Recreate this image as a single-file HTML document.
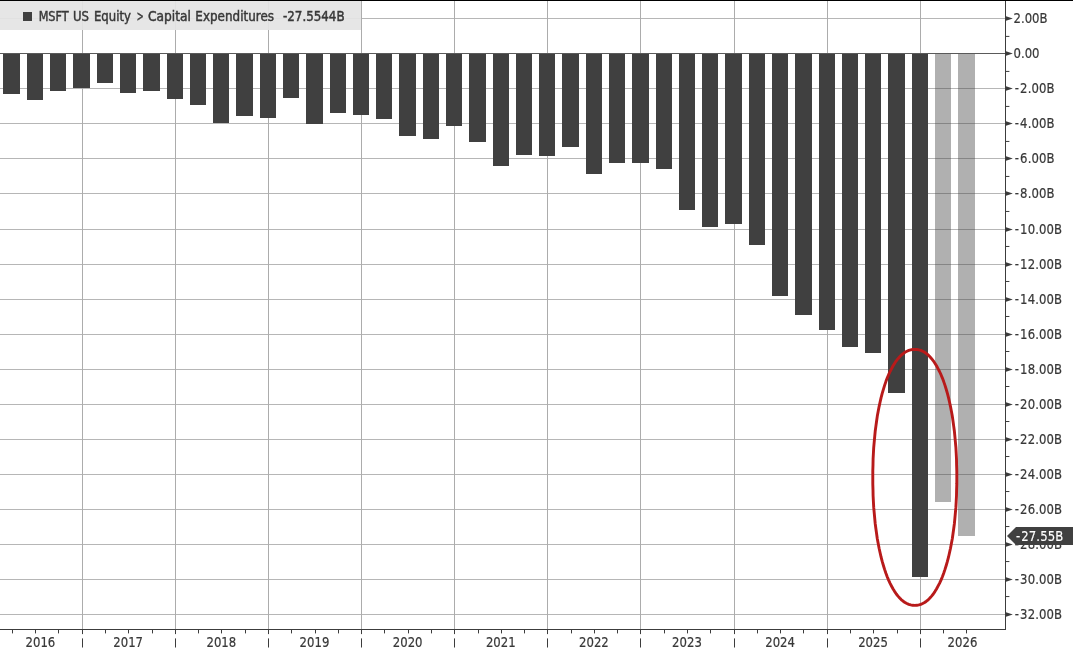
<!DOCTYPE html><html><head><meta charset="utf-8"><title>MSFT US Equity Capital Expenditures</title>
<style>html,body{margin:0;padding:0;background:#fff}body{width:1073px;height:650px;overflow:hidden}svg{display:block}text{font-family:"DejaVu Sans Condensed","DejaVu Sans","Liberation Sans",sans-serif;font-stretch:condensed;font-size:14px;fill:#383838;stroke:#383838;stroke-width:.2px}</style></head><body>
<svg width="1073" height="650" viewBox="0 0 1073 650">
<rect x="0" y="0" width="1073" height="650" fill="#fff"/>
<g fill="#b6b6b6" shape-rendering="crispEdges">
<rect x="0" y="18" width="1005" height="1"/>
<rect x="0" y="88" width="1005" height="1"/>
<rect x="0" y="123" width="1005" height="1"/>
<rect x="0" y="158" width="1005" height="1"/>
<rect x="0" y="193" width="1005" height="1"/>
<rect x="0" y="229" width="1005" height="1"/>
<rect x="0" y="264" width="1005" height="1"/>
<rect x="0" y="299" width="1005" height="1"/>
<rect x="0" y="334" width="1005" height="1"/>
<rect x="0" y="369" width="1005" height="1"/>
<rect x="0" y="404" width="1005" height="1"/>
<rect x="0" y="439" width="1005" height="1"/>
<rect x="0" y="474" width="1005" height="1"/>
<rect x="0" y="509" width="1005" height="1"/>
<rect x="0" y="544" width="1005" height="1"/>
<rect x="0" y="579" width="1005" height="1"/>
<rect x="0" y="614" width="1005" height="1"/>
<rect x="82" y="1" width="1" height="628" fill="#acacac"/>
<rect x="175" y="1" width="1" height="628" fill="#acacac"/>
<rect x="268" y="1" width="1" height="628" fill="#acacac"/>
<rect x="361" y="1" width="1" height="628" fill="#acacac"/>
<rect x="454" y="1" width="1" height="628" fill="#acacac"/>
<rect x="547" y="1" width="1" height="628" fill="#acacac"/>
<rect x="640" y="1" width="1" height="628" fill="#acacac"/>
<rect x="734" y="1" width="1" height="628" fill="#acacac"/>
<rect x="827" y="1" width="1" height="628" fill="#acacac"/>
<rect x="920" y="1" width="1" height="628" fill="#acacac"/>
</g>
<g shape-rendering="crispEdges">
<rect x="3" y="54" width="17" height="40" fill="#404040"/>
<rect x="27" y="54" width="16" height="46" fill="#404040"/>
<rect x="50" y="54" width="16" height="37" fill="#404040"/>
<rect x="73" y="54" width="17" height="34" fill="#404040"/>
<rect x="97" y="54" width="16" height="29" fill="#404040"/>
<rect x="120" y="54" width="16" height="39" fill="#404040"/>
<rect x="143" y="54" width="17" height="37" fill="#404040"/>
<rect x="167" y="54" width="16" height="45" fill="#404040"/>
<rect x="190" y="54" width="16" height="51" fill="#404040"/>
<rect x="213" y="54" width="16" height="69" fill="#404040"/>
<rect x="236" y="54" width="17" height="62" fill="#404040"/>
<rect x="260" y="54" width="16" height="64" fill="#404040"/>
<rect x="283" y="54" width="16" height="44" fill="#404040"/>
<rect x="306" y="54" width="17" height="70" fill="#404040"/>
<rect x="330" y="54" width="16" height="59" fill="#404040"/>
<rect x="353" y="54" width="16" height="61" fill="#404040"/>
<rect x="376" y="54" width="16" height="65" fill="#404040"/>
<rect x="399" y="54" width="17" height="82" fill="#404040"/>
<rect x="423" y="54" width="16" height="85" fill="#404040"/>
<rect x="446" y="54" width="16" height="72" fill="#404040"/>
<rect x="469" y="54" width="17" height="88" fill="#404040"/>
<rect x="493" y="54" width="16" height="112" fill="#404040"/>
<rect x="516" y="54" width="16" height="101" fill="#404040"/>
<rect x="539" y="54" width="16" height="102" fill="#404040"/>
<rect x="562" y="54" width="17" height="93" fill="#404040"/>
<rect x="586" y="54" width="16" height="120" fill="#404040"/>
<rect x="609" y="54" width="16" height="109" fill="#404040"/>
<rect x="632" y="54" width="17" height="109" fill="#404040"/>
<rect x="656" y="54" width="16" height="115" fill="#404040"/>
<rect x="679" y="54" width="16" height="156" fill="#404040"/>
<rect x="702" y="54" width="16" height="173" fill="#404040"/>
<rect x="725" y="54" width="17" height="170" fill="#404040"/>
<rect x="749" y="54" width="16" height="191" fill="#404040"/>
<rect x="772" y="54" width="16" height="242" fill="#404040"/>
<rect x="795" y="54" width="17" height="261" fill="#404040"/>
<rect x="819" y="54" width="16" height="276" fill="#404040"/>
<rect x="842" y="54" width="16" height="293" fill="#404040"/>
<rect x="865" y="54" width="16" height="299" fill="#404040"/>
<rect x="888" y="54" width="17" height="339" fill="#404040"/>
<rect x="912" y="54" width="16" height="523" fill="#404040"/>
<rect x="935" y="54" width="16" height="448" fill="#404040" fill-opacity="0.415"/>
<rect x="958" y="54" width="17" height="482" fill="#404040" fill-opacity="0.415"/>
</g>
<g fill="#3c3c3c" shape-rendering="crispEdges">
<rect x="0" y="53" width="1006" height="1" fill="#5a5a5a"/>
<rect x="0" y="0" width="1073" height="1" fill="#000"/>
<rect x="1005" y="1" width="1" height="629"/>
<rect x="0" y="629" width="1006" height="1"/>
</g>
<g fill="#3c3c3c"><rect x="12" y="630" width="1" height="3.4"/><rect x="35" y="630" width="1" height="3.4"/><rect x="58" y="630" width="1" height="3.4"/><rect x="82" y="630" width="1" height="4.1"/><rect x="82" y="638.4" width="1" height="9.1"/><rect x="105" y="630" width="1" height="3.4"/><rect x="128" y="630" width="1" height="3.4"/><rect x="152" y="630" width="1" height="3.4"/><rect x="175" y="630" width="1" height="4.1"/><rect x="175" y="638.4" width="1" height="9.1"/><rect x="198" y="630" width="1" height="3.4"/><rect x="221" y="630" width="1" height="3.4"/><rect x="245" y="630" width="1" height="3.4"/><rect x="268" y="630" width="1" height="4.1"/><rect x="268" y="638.4" width="1" height="9.1"/><rect x="291" y="630" width="1" height="3.4"/><rect x="315" y="630" width="1" height="3.4"/><rect x="338" y="630" width="1" height="3.4"/><rect x="361" y="630" width="1" height="4.1"/><rect x="361" y="638.4" width="1" height="9.1"/><rect x="384" y="630" width="1" height="3.4"/><rect x="408" y="630" width="1" height="3.4"/><rect x="431" y="630" width="1" height="3.4"/><rect x="454" y="630" width="1" height="4.1"/><rect x="454" y="638.4" width="1" height="9.1"/><rect x="478" y="630" width="1" height="3.4"/><rect x="501" y="630" width="1" height="3.4"/><rect x="524" y="630" width="1" height="3.4"/><rect x="547" y="630" width="1" height="4.1"/><rect x="547" y="638.4" width="1" height="9.1"/><rect x="571" y="630" width="1" height="3.4"/><rect x="594" y="630" width="1" height="3.4"/><rect x="617" y="630" width="1" height="3.4"/><rect x="640" y="630" width="1" height="4.1"/><rect x="640" y="638.4" width="1" height="9.1"/><rect x="664" y="630" width="1" height="3.4"/><rect x="687" y="630" width="1" height="3.4"/><rect x="710" y="630" width="1" height="3.4"/><rect x="734" y="630" width="1" height="4.1"/><rect x="734" y="638.4" width="1" height="9.1"/><rect x="757" y="630" width="1" height="3.4"/><rect x="780" y="630" width="1" height="3.4"/><rect x="803" y="630" width="1" height="3.4"/><rect x="827" y="630" width="1" height="4.1"/><rect x="827" y="638.4" width="1" height="9.1"/><rect x="850" y="630" width="1" height="3.4"/><rect x="873" y="630" width="1" height="3.4"/><rect x="897" y="630" width="1" height="3.4"/><rect x="920" y="630" width="1" height="4.1"/><rect x="920" y="638.4" width="1" height="9.1"/><rect x="943" y="630" width="1" height="3.4"/><rect x="966" y="630" width="1" height="3.4"/><rect x="1006" y="35.90" width="3.4" height="1"/><rect x="1006" y="70.91" width="3.4" height="1"/><rect x="1006" y="105.92" width="3.4" height="1"/><rect x="1006" y="140.93" width="3.4" height="1"/><rect x="1006" y="175.94" width="3.4" height="1"/><rect x="1006" y="210.95" width="3.4" height="1"/><rect x="1006" y="245.96" width="3.4" height="1"/><rect x="1006" y="280.97" width="3.4" height="1"/><rect x="1006" y="315.98" width="3.4" height="1"/><rect x="1006" y="350.99" width="3.4" height="1"/><rect x="1006" y="386.00" width="3.4" height="1"/><rect x="1006" y="421.01" width="3.4" height="1"/><rect x="1006" y="456.02" width="3.4" height="1"/><rect x="1006" y="491.03" width="3.4" height="1"/><rect x="1006" y="526.04" width="3.4" height="1"/><rect x="1006" y="561.05" width="3.4" height="1"/><rect x="1006" y="596.06" width="3.4" height="1"/></g>
<g fill="#3c3c3c">
<path d="M1006 16.3 L1012.8 18.5 L1006 20.7 Z"/>
<path d="M1006 51.3 L1012.8 53.5 L1006 55.7 Z"/>
<path d="M1006 86.3 L1012.8 88.5 L1006 90.7 Z"/>
<path d="M1006 121.3 L1012.8 123.5 L1006 125.7 Z"/>
<path d="M1006 156.3 L1012.8 158.5 L1006 160.7 Z"/>
<path d="M1006 191.3 L1012.8 193.5 L1006 195.7 Z"/>
<path d="M1006 227.3 L1012.8 229.5 L1006 231.7 Z"/>
<path d="M1006 262.3 L1012.8 264.5 L1006 266.7 Z"/>
<path d="M1006 297.3 L1012.8 299.5 L1006 301.7 Z"/>
<path d="M1006 332.3 L1012.8 334.5 L1006 336.7 Z"/>
<path d="M1006 367.3 L1012.8 369.5 L1006 371.7 Z"/>
<path d="M1006 402.3 L1012.8 404.5 L1006 406.7 Z"/>
<path d="M1006 437.3 L1012.8 439.5 L1006 441.7 Z"/>
<path d="M1006 472.3 L1012.8 474.5 L1006 476.7 Z"/>
<path d="M1006 507.3 L1012.8 509.5 L1006 511.7 Z"/>
<path d="M1006 542.3 L1012.8 544.5 L1006 546.7 Z"/>
<path d="M1006 577.3 L1012.8 579.5 L1006 581.7 Z"/>
<path d="M1006 612.3 L1012.8 614.5 L1006 616.7 Z"/>
</g>
<g transform="scale(0.92857,1)">
<text x="1091.5" y="22.9">2.00B</text>
<text x="1091.5" y="57.9">0.00</text>
<text x="1092.9" y="92.9">-<tspan dx="1.1" letter-spacing=".13">2.00B</tspan></text>
<text x="1092.9" y="127.9">-<tspan dx="1.1" letter-spacing=".13">4.00B</tspan></text>
<text x="1092.9" y="162.9">-<tspan dx="1.1" letter-spacing=".13">6.00B</tspan></text>
<text x="1092.9" y="197.9">-<tspan dx="1.1" letter-spacing=".13">8.00B</tspan></text>
<text x="1092.9" y="233.9">-<tspan dx="1.1" letter-spacing=".13">10.00B</tspan></text>
<text x="1092.9" y="268.9">-<tspan dx="1.1" letter-spacing=".13">12.00B</tspan></text>
<text x="1092.9" y="303.9">-<tspan dx="1.1" letter-spacing=".13">14.00B</tspan></text>
<text x="1092.9" y="338.9">-<tspan dx="1.1" letter-spacing=".13">16.00B</tspan></text>
<text x="1092.9" y="373.9">-<tspan dx="1.1" letter-spacing=".13">18.00B</tspan></text>
<text x="1092.9" y="408.9">-<tspan dx="1.1" letter-spacing=".13">20.00B</tspan></text>
<text x="1092.9" y="443.9">-<tspan dx="1.1" letter-spacing=".13">22.00B</tspan></text>
<text x="1092.9" y="478.9">-<tspan dx="1.1" letter-spacing=".13">24.00B</tspan></text>
<text x="1092.9" y="513.9">-<tspan dx="1.1" letter-spacing=".13">26.00B</tspan></text>
<text x="1092.9" y="548.9">-<tspan dx="1.1" letter-spacing=".13">28.00B</tspan></text>
<text x="1092.9" y="583.9">-<tspan dx="1.1" letter-spacing=".13">30.00B</tspan></text>
<text x="1092.9" y="618.9">-<tspan dx="1.1" letter-spacing=".13">32.00B</tspan></text>
</g>
<path d="M1007 536 L1016 527 L1073 527 L1073 545 L1016 545 Z" fill="#404040"/>
<g transform="scale(0.92857,1)">
<text x="1094.2" y="541.1" style="fill:#fff;stroke:#fff;stroke-width:.15px">-<tspan dx="1.1" letter-spacing=".1">27.55B</tspan></text>
<text x="43.5" y="647.2" text-anchor="middle">2016</text>
<text x="138.0" y="647.2" text-anchor="middle">2017</text>
<text x="238.4" y="647.2" text-anchor="middle">2018</text>
<text x="338.7" y="647.2" text-anchor="middle">2019</text>
<text x="439.0" y="647.2" text-anchor="middle">2020</text>
<text x="539.3" y="647.2" text-anchor="middle">2021</text>
<text x="639.6" y="647.2" text-anchor="middle">2022</text>
<text x="739.8" y="647.2" text-anchor="middle">2023</text>
<text x="840.1" y="647.2" text-anchor="middle">2024</text>
<text x="940.2" y="647.2" text-anchor="middle">2025</text>
<text x="1036.5" y="647.2" text-anchor="middle">2026</text>
</g>
<rect x="0" y="1" width="361" height="29" fill="#e4e4e4" fill-opacity="0.93"/>
<rect x="23" y="12" width="9" height="9" fill="#404040"/>
<text transform="scale(0.92857,1)" y="20.9" style="stroke-width:.45px"><tspan x="41.6" textLength="32.4" lengthAdjust="spacingAndGlyphs">MSFT</tspan> <tspan x="78.6">US</tspan> <tspan x="101.2">Equity</tspan> <tspan x="147.4" textLength="7.4" lengthAdjust="spacingAndGlyphs">&gt;</tspan> <tspan x="159.4" textLength="46.3" lengthAdjust="spacingAndGlyphs">Capital</tspan> <tspan x="210.4" textLength="84.7" lengthAdjust="spacingAndGlyphs">Expenditures</tspan> <tspan x="304.8" textLength="66.3" lengthAdjust="spacingAndGlyphs">-27.5544B</tspan></text>
<path d="M956.8 477.4 L956.8 483.9 L956.6 489.9 L956.5 495.8 L956.2 501.6 L955.9 507.2 L955.4 512.7 L954.9 518.2 L954.4 523.5 L953.7 528.7 L953.0 533.8 L952.3 538.7 L951.4 543.5 L950.5 548.2 L949.5 552.8 L948.5 557.2 L947.4 561.4 L946.2 565.5 L945.0 569.4 L943.7 573.2 L942.4 576.7 L941.0 580.1 L939.5 583.3 L938.0 586.2 L936.5 589.0 L934.9 591.6 L933.3 594.0 L931.6 596.1 L929.9 598.0 L928.2 599.8 L926.4 601.2 L924.6 602.5 L922.7 603.5 L920.8 604.4 L918.9 604.9 L916.9 605.3 L914.8 605.4 L912.7 605.3 L910.7 604.9 L908.8 604.4 L906.9 603.5 L905.0 602.5 L903.2 601.2 L901.4 599.8 L899.7 598.0 L898.0 596.1 L896.3 594.0 L894.7 591.6 L893.1 589.0 L891.6 586.2 L890.1 583.3 L888.6 580.1 L887.2 576.7 L885.9 573.2 L884.6 569.4 L883.4 565.5 L882.2 561.4 L881.1 557.2 L880.1 552.8 L879.1 548.2 L878.2 543.5 L877.3 538.7 L876.6 533.8 L875.9 528.7 L875.2 523.5 L874.7 518.2 L874.2 512.7 L873.7 507.2 L873.4 501.6 L873.1 495.8 L873.0 489.9 L872.8 483.9 L872.8 477.4 L872.8 470.9 L873.0 464.9 L873.1 459.0 L873.4 453.2 L873.7 447.6 L874.2 442.1 L874.7 436.6 L875.2 431.3 L875.9 426.1 L876.6 421.0 L877.3 416.1 L878.2 411.3 L879.1 406.6 L880.1 402.0 L881.1 397.6 L882.2 393.4 L883.4 389.3 L884.6 385.4 L885.9 381.6 L887.2 378.1 L888.6 374.7 L890.1 371.5 L891.6 368.6 L893.1 365.8 L894.7 363.2 L896.3 360.8 L898.0 358.7 L899.7 356.8 L901.4 355.0 L903.2 353.6 L905.0 352.3 L906.9 351.3 L908.8 350.4 L910.7 349.9 L912.7 349.5 L914.8 349.4 L916.9 349.5 L918.9 349.9 L920.8 350.4 L922.7 351.3 L924.6 352.3 L926.4 353.6 L928.2 355.0 L929.9 356.8 L931.6 358.7 L933.3 360.8 L934.9 363.2 L936.5 365.8 L938.0 368.6 L939.5 371.5 L941.0 374.7 L942.4 378.1 L943.7 381.6 L945.0 385.4 L946.2 389.3 L947.4 393.4 L948.5 397.6 L949.5 402.0 L950.5 406.6 L951.4 411.3 L952.3 416.1 L953.0 421.0 L953.7 426.1 L954.4 431.3 L954.9 436.6 L955.4 442.1 L955.9 447.6 L956.2 453.2 L956.5 459.0 L956.6 464.9 L956.8 470.9 Z" fill="none" stroke="#b81a1a" stroke-width="2.9" stroke-linejoin="round"/>
</svg></body></html>
